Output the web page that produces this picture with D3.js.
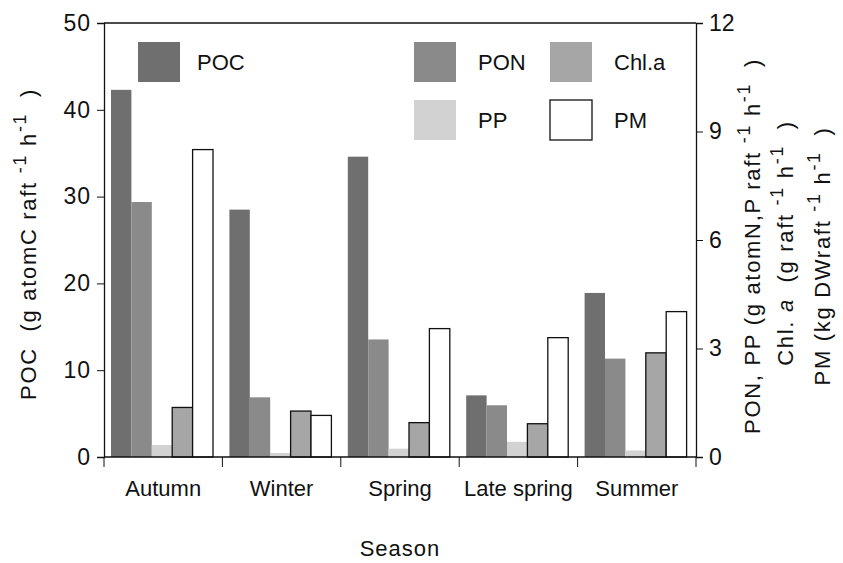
<!DOCTYPE html>
<html>
<head>
<meta charset="utf-8">
<script src="https://cdn.jsdelivr.net/npm/d3@7"></script>
<style>
  body { margin: 0; background: #fff; }
  text { font-family: "Liberation Sans", Arial, sans-serif; fill: #111; }
</style>
</head>
<body>
<svg id="chart" width="843" height="563"></svg>
<script>
// data
const seasons = ["Autumn", "Winter", "Spring", "Late spring", "Summer"];
const series = ["POC", "PON", "PP", "Chl.a", "PM"];
const poc  = [42.3, 28.5, 34.6, 7.1, 18.9];   // left axis
const pon  = [7.05, 1.65, 3.25, 1.43, 2.72];  // right axis
const pp   = [0.33, 0.11, 0.23, 0.42, 0.18];
const chla = [1.37, 1.27, 0.95, 0.92, 2.88];
const pm   = [8.5, 1.15, 3.55, 3.3, 4.02];
const leftTicks = [0, 10, 20, 30, 40, 50];
const rightTicks = [0, 3, 6, 9, 12];

const values = { "POC": poc, "PON": pon, "PP": pp, "Chl.a": chla, "PM": pm };
const fills = { "POC": "#6f6f6f", "PON": "#8a8a8a", "PP": "#d2d2d2", "Chl.a": "#a6a6a6", "PM": "#ffffff" };

const svg = d3.select("#chart");
const plotL = 104, plotR = 696, plotT = 23, plotB = 457;

const x = d3.scaleBand().domain(seasons).range([plotL, plotR]).padding(0);
const xs = d3.scaleBand().domain(series).range([7, 109]).padding(0);
const yL = d3.scaleLinear().domain([0, 50]).range([plotB, plotT]);
const yR = d3.scaleLinear().domain([0, 12]).range([plotB, plotT]);

// bars
const rows = [];
seasons.forEach((s, i) => series.forEach(k => rows.push({ season: s, key: k, v: values[k][i] })));
svg.append("g").selectAll("rect").data(rows).join("rect")
  .attr("x", d => x(d.season) + xs(d.key))
  .attr("width", xs.bandwidth())
  .attr("y", d => (d.key === "POC" ? yL : yR)(d.v))
  .attr("height", d => plotB - (d.key === "POC" ? yL : yR)(d.v))
  .attr("fill", d => fills[d.key])
  .attr("stroke", d => d.key === "PM" || d.key === "Chl.a" ? "#111" : "none")
  .attr("stroke-width", 1.3);

// axes
const fs = "22px";
const gl = svg.append("g").attr("transform", `translate(${plotL},0)`)
  .call(d3.axisLeft(yL).tickValues(leftTicks).tickSize(7).tickPadding(6));
const gr = svg.append("g").attr("transform", `translate(${plotR},0)`)
  .call(d3.axisRight(yR).tickValues(rightTicks).tickSize(7).tickPadding(6));
const gb = svg.append("g").attr("transform", `translate(0,${plotB})`)
  .call(d3.axisBottom(x).tickSize(0).tickPadding(23));
[gl, gr, gb].forEach(g => {
  g.selectAll("text").style("font-size", fs).style("font-family", "'Liberation Sans', Arial, sans-serif").attr("fill", "#111");
  g.select(".domain").attr("stroke", "#111").attr("stroke-width", 1.3);
  g.selectAll(".tick line").attr("stroke", "#111");
});
gl.selectAll("text").style("font-size", "23px").style("letter-spacing", "1px");
gr.selectAll("text").style("font-size", "23px");
gb.select(".domain").attr("d", `M${plotL},0H${plotR}`);
// category separators
svg.append("g").selectAll("line").data(seasons.concat(["end"])).join("line")
  .attr("x1", (d, i) => i < seasons.length ? x(d) : plotR)
  .attr("x2", (d, i) => i < seasons.length ? x(d) : plotR)
  .attr("y1", plotB).attr("y2", plotB + 10)
  .attr("stroke", "#111");
svg.append("line").attr("x1", plotL).attr("x2", plotR).attr("y1", plotT).attr("y2", plotT)
  .attr("stroke", "#111").attr("stroke-width", 1.3);

// legend
const legend = [
  { key: "POC", x: 138, y: 42 },
  { key: "PON", x: 414, y: 42 },
  { key: "Chl.a", x: 550, y: 42 },
  { key: "PP", x: 414, y: 100 },
  { key: "PM", x: 550, y: 100 }
];
const lg = svg.append("g").selectAll("g").data(legend).join("g")
  .attr("transform", d => `translate(${d.x},${d.y})`);
lg.append("rect").attr("width", 42).attr("height", 40)
  .attr("fill", d => fills[d.key])
  .attr("stroke", d => d.key === "PM" ? "#111" : "none").attr("stroke-width", 1.3);
lg.append("text").attr("x", d => d.key === "POC" ? 59 : 64).attr("y", 28)
  .style("font-size", fs).text(d => d.key);

// axis titles
function title(tx, ty, parts) {
  const t = svg.append("text").attr("transform", `translate(${tx},${ty}) rotate(-90)`)
    .attr("text-anchor", "middle").style("font-size", fs).style("letter-spacing", "1.7px")
    .attr("xml:space", "preserve");
  parts.forEach(p => {
    const s = t.append("tspan").text(p[0]);
    if (p[1] === "sup") s.attr("dy", -10).style("font-size", "18px");
    if (p[1] === "down") s.attr("dy", 10);
    if (p[1] === "it") s.style("font-style", "italic");
  });
}
title(36, 244, [["POC  (g atomC raft "], ["-1", "sup"], [" h", "down"], ["-1", "sup"], ["  )", "down"]]);
title(760, 246, [["PON, PP (g atomN,P raft "], ["-1", "sup"], [" h", "down"], ["-1", "sup"], ["  )", "down"]]);
title(793, 243, [["Chl. "], ["a", "it"], ["  (g raft "], ["-1", "sup"], [" h", "down"], ["-1", "sup"], ["  )", "down"]]);
title(830, 256, [["PM (kg DWraft "], ["-1", "sup"], [" h", "down"], ["-1", "sup"], ["  )", "down"]]);

svg.append("text").attr("x", 400).attr("y", 556).attr("text-anchor", "middle")
  .style("font-size", fs).style("letter-spacing", "1px").text("Season");
</script>
</body>
</html>
